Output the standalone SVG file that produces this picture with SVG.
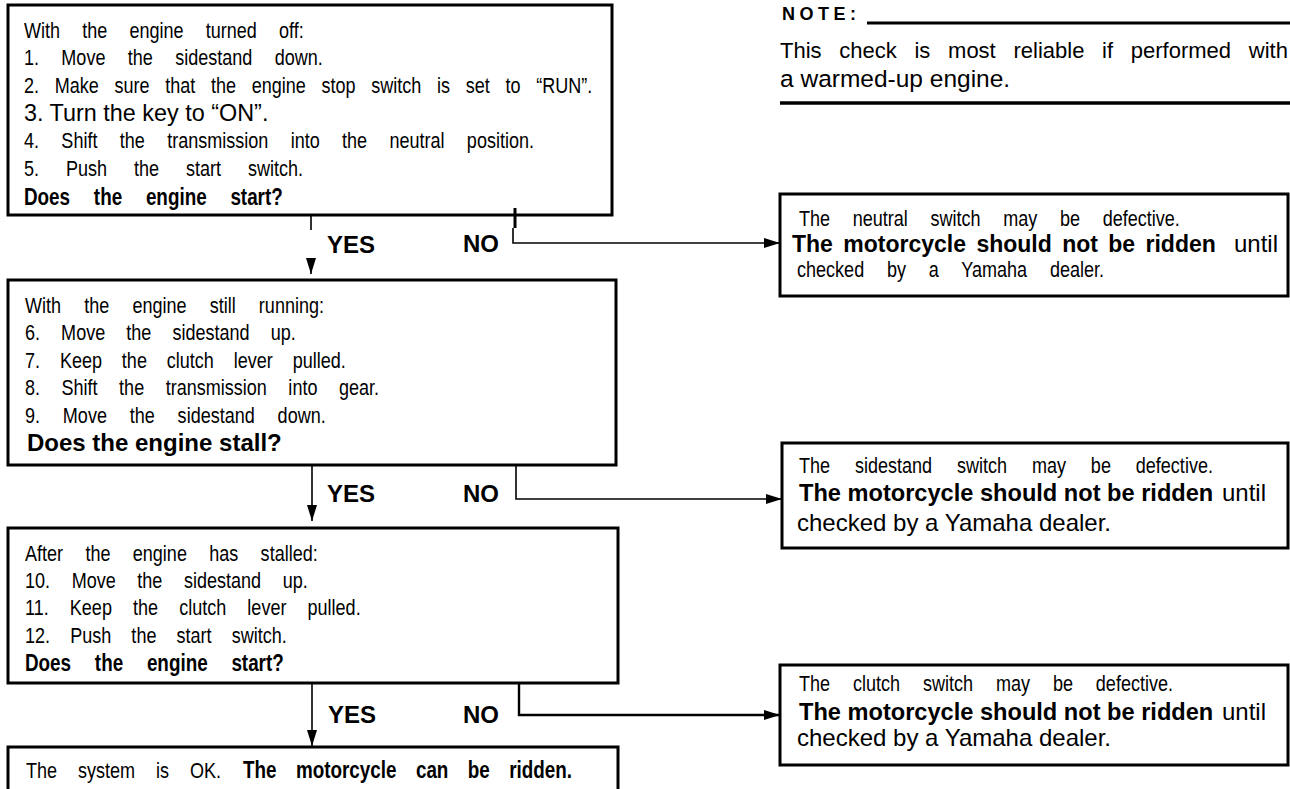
<svg xmlns="http://www.w3.org/2000/svg" width="1290" height="789" viewBox="0 0 1290 789">
<defs>
<style>
text{font-family:"Liberation Sans",Arial,sans-serif;fill:#000}
.c{font-size:22px}
.cb{font-size:23px;font-weight:bold}
.r{font-size:24px}
.b{font-size:23.6px;font-weight:bold}
.box{fill:none;stroke:#000;stroke-width:3}
.con{fill:none;stroke:#000;stroke-width:1.6}
.lbl{font-size:24px;font-weight:bold}
</style>
<marker id="ah" markerWidth="16" markerHeight="10" refX="16" refY="5" orient="auto" markerUnits="userSpaceOnUse"><path d="M0,0 L16,5 L0,10 z" fill="#000"/></marker>
</defs>
<rect width="1290" height="789" fill="#fff"/>

<g id="note">
<text x="782" y="19.5" style="font-size:18px;font-weight:bold;letter-spacing:4.5px">NOTE:</text>
<line x1="867" y1="23" x2="1290" y2="23" stroke="#000" stroke-width="3"/>
<text x="780" y="57.5" style="font-size:22px;word-spacing:11.6px">This check is most reliable if performed with</text>
<text x="780" y="86.5" style="font-size:24.5px">a warmed-up engine.</text>
<line x1="780" y1="103" x2="1290" y2="103" stroke="#000" stroke-width="3.5"/>
</g>

<g id="box1">
<rect class="box" x="8" y="5" width="604" height="210"/>
<text class="c" transform="translate(24,37.5) scale(0.82,1)" style="word-spacing:20.9px">With the engine turned off:</text>
<text class="c" transform="translate(24,64.5) scale(0.82,1)" style="word-spacing:21.1px">1. Move the sidestand down.</text>
<text class="c" transform="translate(24,92.5) scale(0.82,1)" style="word-spacing:13px">2. Make sure that the engine stop switch is set to “RUN”.</text>
<text x="24" y="121.4" style="font-size:23.4px">3. Turn the key to “ON”.</text>
<text class="c" transform="translate(24,147.5) scale(0.82,1)" style="word-spacing:21.1px">4. Shift the transmission into the neutral position.</text>
<text class="c" transform="translate(24,175.5) scale(0.82,1)" style="word-spacing:26.7px">5. Push the start switch.</text>
<text class="cb" transform="translate(24,205) scale(0.82,1)" style="word-spacing:22.6px">Does the engine start?</text>
</g>

<g id="box2">
<rect class="box" x="8" y="280" width="608" height="185"/>
<text class="c" transform="translate(25,312.5) scale(0.82,1)" style="word-spacing:22.1px">With the engine still running:</text>
<text class="c" transform="translate(25,339.5) scale(0.82,1)" style="word-spacing:19.6px">6. Move the sidestand up.</text>
<text class="c" transform="translate(25,367.5) scale(0.82,1)" style="word-spacing:18.1px">7. Keep the clutch lever pulled.</text>
<text class="c" transform="translate(25,394.5) scale(0.82,1)" style="word-spacing:20.1px">8. Shift the transmission into gear.</text>
<text class="c" transform="translate(25,422.5) scale(0.82,1)" style="word-spacing:21.7px">9. Move the sidestand down.</text>
<text x="27" y="450.5" style="font-size:24px;font-weight:bold">Does the engine stall?</text>
</g>

<g id="box3">
<rect class="box" x="8" y="528" width="610" height="155"/>
<text class="c" transform="translate(25,560.5) scale(0.82,1)" style="word-spacing:21.1px">After the engine has stalled:</text>
<text class="c" transform="translate(25,587.5) scale(0.82,1)" style="word-spacing:20.2px">10. Move the sidestand up.</text>
<text class="c" transform="translate(25,614.5) scale(0.82,1)" style="word-spacing:19.6px">11. Keep the clutch lever pulled.</text>
<text class="c" transform="translate(25,642.5) scale(0.82,1)" style="word-spacing:18.4px">12. Push the start switch.</text>
<text class="cb" transform="translate(25,670.5) scale(0.82,1)" style="word-spacing:22.6px">Does the engine start?</text>
</g>

<g id="box4">
<path class="box" d="M8 789 V747 H618 V789"/>
<text class="c" transform="translate(26,777.5) scale(0.82,1)" style="word-spacing:19.4px">The system is OK.</text>
<text class="cb" transform="translate(243,777.5) scale(0.82,1)" style="word-spacing:17.3px">The motorcycle can be ridden.</text>
</g>

<g id="result1">
<rect class="box" x="780" y="194" width="508" height="102"/>
<text class="c" transform="translate(799,226) scale(0.82,1)" style="word-spacing:21.5px">The neutral switch may be defective.</text>
<text x="792" y="252" style="font-size:23px;font-weight:bold;word-spacing:4px">The motorcycle should not be ridden</text>
<text class="r" x="1234" y="252">until</text>
<text class="c" transform="translate(797,277) scale(0.82,1)" style="word-spacing:21.7px">checked by a Yamaha dealer.</text>
</g>

<g id="result2">
<rect class="box" x="782" y="443" width="506" height="105"/>
<text class="c" transform="translate(799,472.5) scale(0.82,1)" style="word-spacing:24.2px">The sidestand switch may be defective.</text>
<text class="b" x="799" y="501">The motorcycle should not be ridden</text>
<text class="r" x="1222" y="501">until</text>
<text class="r" x="797" y="531">checked by a Yamaha dealer.</text>
</g>

<g id="result3">
<rect class="box" x="780" y="665" width="508" height="100"/>
<text class="c" transform="translate(799,690.5) scale(0.82,1)" style="word-spacing:21.8px">The clutch switch may be defective.</text>
<text class="b" x="799" y="720">The motorcycle should not be ridden</text>
<text class="r" x="1222" y="720">until</text>
<text class="r" x="797" y="746">checked by a Yamaha dealer.</text>
</g>

<g id="connectors">
<path class="con" d="M311 215 V230 M311 258 V274" marker-end="url(#ah)"/>
<line x1="515" y1="208" x2="515" y2="228" stroke="#000" stroke-width="3"/>
<path class="con" d="M513 228 V243 H780" marker-end="url(#ah)"/>
<path class="con" d="M312 465 V521" marker-end="url(#ah)"/>
<path class="con" d="M516 465 V499 H782" marker-end="url(#ah)"/>
<path class="con" d="M312 683 V746" marker-end="url(#ah)"/>
<path class="con" style="stroke-width:2.4" d="M519 683 V715 H780" marker-end="url(#ah)"/>
<text class="lbl" x="327" y="252.5">YES</text>
<text class="lbl" x="463" y="252">NO</text>
<text class="lbl" x="327" y="501.5">YES</text>
<text class="lbl" x="463" y="501.5">NO</text>
<text class="lbl" x="328" y="722.5">YES</text>
<text class="lbl" x="463" y="722.5">NO</text>
</g>
</svg>
